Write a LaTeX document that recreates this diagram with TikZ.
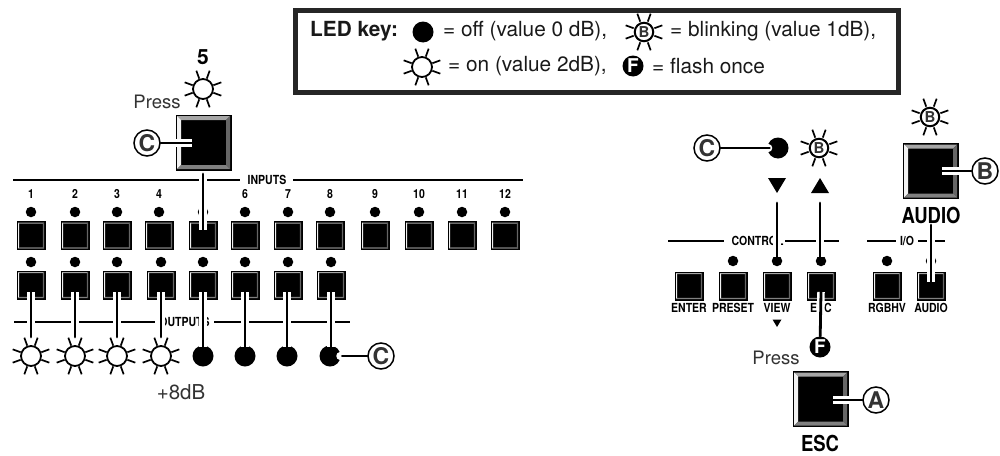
\documentclass[tikz,border=0pt]{standalone}
\usepackage{fontspec}
\setmainfont{TeX Gyre Heros}
\newfontfamily\cnfont[FakeStretch=0.84]{TeX Gyre Heros}
\usetikzlibrary{calc}
\pgfdeclarelayer{wirelayer}
\pgfdeclarelayer{toplayer}
\pgfsetlayers{main,wirelayer,toplayer}
\definecolor{ink}{HTML}{333333}
\tikzset{
  txt/.style={inner sep=0pt,text=ink,font=\fontsize{18.5}{20}\selectfont},
  keytxt/.style={inner sep=0pt,text=black!90,anchor=west,font=\fontsize{20.8}{22}\selectfont},
  blab/.style={inner sep=0pt,font=\fontsize{22}{24}\selectfont\bfseries\cnfont},
  seclab/.style={inner sep=0pt,font=\fontsize{12.5}{13}\selectfont\bfseries\cnfont},
  numlab/.style={inner sep=0pt,font=\fontsize{12.5}{13}\selectfont\bfseries\cnfont},
  btnlab/.style={inner sep=0pt,font=\fontsize{12.5}{14}\selectfont\bfseries\cnfont},
  rule/.style={line width=2pt},
  halo/.style={draw=white,line width=7.5pt,line cap=round},
  core/.style={draw=black,line width=2.8pt,line cap=round},
  wire/.style={core,preaction={draw=white,line width=7.5pt}},
  tag/.style={circle,draw=black,line width=1.5pt,fill=white,minimum size=26pt,inner sep=0pt,text=ink,font=\fontsize{23}{24}\selectfont\bfseries},
  led/.style={circle,fill=black,minimum size=10.5pt,inner sep=0pt},
  offlamp/.style={circle,fill=black,minimum size=21pt,inner sep=0pt},
  sun/.style={circle,draw=black,line width=1.8pt,fill=white,minimum size=20pt,inner sep=0pt},
  bsun/.style={circle,draw=black,line width=2pt,fill=white,minimum size=18.5pt,inner sep=0pt,text=ink,font=\fontsize{15}{15}\selectfont\bfseries},
  flash/.style={circle,fill=black,minimum size=21pt,inner sep=0pt,text=white,font=\fontsize{19}{19}\selectfont\bfseries},
  ray/.style={line width=1.7pt},
  btnface/.style={rectangle,fill=black,draw=black,line width=1pt,inner sep=0pt},
  tri/.style={fill=black},
}
% name, x, y, size, bevel
\newcommand\btn[5]{%
  \node[btnface,minimum size=#4pt] (#1) at (#2,#3) {};
  \pgfmathsetmacro\hA{#4/2-1}%
  \pgfmathsetmacro\hB{#4/2-1-#5}%
  \coordinate (ta) at ($(#2,#3)+(-\hA,-\hA)$);
  \coordinate (tb) at ($(#2,#3)+(\hA,-\hA)$);
  \coordinate (tc) at ($(#2,#3)+(\hA,\hA)$);
  \coordinate (td) at ($(#2,#3)+(-\hA,\hA)$);
  \coordinate (ia) at ($(#2,#3)+(-\hB,-\hB)$);
  \coordinate (ib) at ($(#2,#3)+(\hB,-\hB)$);
  \coordinate (ic) at ($(#2,#3)+(\hB,\hB)$);
  \coordinate (id) at ($(#2,#3)+(-\hB,\hB)$);
  \fill[black!35] (ta) -- (tb) -- (ib) -- (ia) -- cycle;
  \fill[black!5] (ta) -- (td) -- (id) -- (ia) -- cycle;
  \fill[black!60] (tb) -- (tc) -- (ic) -- (ib) -- cycle;
  \fill[black!50] (td) -- (tc) -- (ic) -- (id) -- cycle;
}
\newcommand\rays[1]{%
  \foreach \a in {20,70,110,160,200,250,290,340}
    \draw[ray] ($(#1.center)+(\a:11)$) -- ($(#1.center)+(\a:19.5)$);
}
\newcommand\sunlamp[3]{\node[sun] (#1) at (#2,#3) {}; \rays{#1}}
\newcommand\blamp[3]{\node[bsun] (#1) at (#2,#3) {B}; \rays{#1}}
\begin{document}
\begin{tikzpicture}[x=1pt,y=-1pt]
\useasboundingbox (0,0) rectangle (1000,455);
\fill[white] (0,0) rectangle (1000,455);
% key
\node[draw=black!85,line width=5pt,minimum width=603pt,minimum height=82pt,inner sep=0pt] (keybox) at (597,51) {};
\node[keytxt,font=\fontsize{20.8}{22}\selectfont\bfseries] (k1) at (310,31) {LED key:};
\node[offlamp] (koff) at (423,32) {};
\node[keytxt] (k2) at (443,31) {= off (value 0 dB),};
\blamp{kb}{644}{32}
\node[keytxt] (k3) at (670,31) {= blinking (value 1dB),};
\sunlamp{kon}{422}{67}
\node[keytxt] (k4) at (448,66) {= on (value 2dB),};
\node[flash] (kf) at (633,66) {F};
\node[keytxt] (k5) at (652,66) {= flash once};
% top press
\node[inner sep=0pt,font=\fontsize{21}{22}\selectfont\bfseries] (five) at (203,57) {5};
\sunlamp{topsun}{203}{89}
\node[txt] (press1) at (157,102) {Press};
\btn{topbtn}{203.5}{142.5}{55}{4}
% input rules
\draw[rule] (13,180) -- (240,180);
\draw[rule] (293,180) -- (523,180);
\node[seclab] (inlab) at (267,180) {INPUTS};
\draw[rule] (14,322) -- (155,322);
\draw[rule] (214,322) -- (350,322);
\node[seclab] (outlab) at (184.5,322) {OUTPUTS};
% input buttons
\foreach \i/\xx in {1/31,2/75,3/117,4/159,5/203,6/245,7/288,8/330,9/375,10/419,11/462,12/505}{
  \btn{in\i}{\xx}{235.5}{28}{1.2}
  \node[led] (inled\i) at (\xx,212) {};
}
\foreach \i/\xx in {1/31,2/75,3/117,4/159,6/245,7/288,8/330,9/375,10/419,11/462,12/505}{
  \node[numlab] (num\i) at (\xx,194) {\i};
}
% output buttons
\foreach \i/\xx in {1/31,2/75,3/117,4/161,5/203,6/245,7/288,8/331}{
  \btn{out\i}{\xx}{285}{28}{1.2}
  \node[led] (outled\i) at (\xx,262) {};
}
\foreach \i/\xx in {1/31,2/75,3/117,4/161}{ \sunlamp{lamp\i}{\xx}{356} }
\foreach \i/\xx in {5/203,6/245,7/287,8/330}{ \node[offlamp] (lamp\i) at (\xx,356) {}; }
\node[txt,font=\fontsize{20.5}{22}\selectfont] (db) at (181,392) {+8dB};
% right side
\draw[rule] (668,241) -- (724,241);
\draw[rule] (785,241) -- (839,241);
\node[seclab] (ctrl) at (757.5,241) {CONTROL};
\draw[rule] (867,241) -- (896,241);
\draw[rule] (918,241) -- (945,241);
\node[seclab] (io) at (907,241) {I/O};
\foreach \nm/\xx/\t in {enter/689/ENTER,preset/733/PRESET,view/777/VIEW,esc/821/ESC,rgb/887/RGBHV,aud/931/AUDIO}{
  \btn{\nm}{\xx}{286}{28}{1.2}
  \node[btnlab] (\nm lab) at (\xx,307.5) {\t};
}
\foreach \nm/\xx in {preset/733,view/777,esc/821,rgb/887,aud/931}{ \node[led] (\nm led) at (\xx,261) {}; }
\fill[tri] (772.5,319.5) -- (781.5,319.5) -- (777,327) -- cycle;
\node[offlamp] (vlamp) at (778,148) {};
\blamp{ublamp}{819}{148}
\fill[tri] (768,178) -- (786,178) -- (777,193) -- cycle;
\fill[tri] (811,193) -- (829,193) -- (820,178) -- cycle;
\blamp{ablamp}{930}{117}
\btn{audbtn}{930.5}{171}{55}{4}
\node[blab] (audlab) at (931,215) {AUDIO};
\node[txt] (press2) at (776,358) {Press};
\btn{escbtn}{820.5}{399}{55}{4}
\node[blab] (esclab) at (820,443) {ESC};
% tags above wires
\begin{pgfonlayer}{toplayer}
\node[tag] (c1) at (147,143) {C};
\node[tag] (c2) at (381,356) {C};
\node[tag] (c3) at (707,148) {C};
\node[tag] (b1) at (985,171) {B};
\node[tag] (a1) at (876,400) {A};
\node[flash] (fl) at (820,347) {F};
\end{pgfonlayer}
% wires
\begin{pgfonlayer}{wirelayer}
\coordinate (t1) at (192,143);
\draw[wire] (c1) -- (t1);
\coordinate (t2) at (203,174);
\coordinate (t3) at (203,230);
\draw[wire] (t2) -- (t3);
\foreach \i/\xx/\e in {1/31/337,2/75/337,3/117/337,4/161/337,5/203/347,6/245/347,7/287/347,8/331/347}{
  \coordinate (ws\i) at (\xx,292);
  \coordinate (we\i) at (\xx,\e);
  \draw[wire] (ws\i) -- (we\i);
}
\coordinate (h4) at (340,356);
\coordinate (t4) at (342.2,356);
\draw[halo] (c2) -- (h4);
\draw[core] (c2) -- (t4);
\coordinate (h5) at (768.5,148);
\coordinate (t5) at (769.5,148);
\draw[halo] (c3) -- (h5);
\draw[core] (c3) -- (t5);
\coordinate (t6) at (777,203);
\coordinate (t7) at (777,257);
\draw[wire] (t6) -- (t7);
\coordinate (t8) at (820,203);
\coordinate (t9) at (820,257);
\draw[wire] (t8) -- (t9);
\coordinate (t10) at (821,292);
\draw[wire] (t10) -- (fl);
\coordinate (t11) at (942,171);
\draw[wire] (b1) -- (t11);
\coordinate (t12) at (931,225);
\coordinate (t13) at (931,282);
\draw[wire] (t12) -- (t13);
\coordinate (t14) at (833,400);
\draw[wire] (a1) -- (t14);
\end{pgfonlayer}
\end{tikzpicture}
\end{document}
